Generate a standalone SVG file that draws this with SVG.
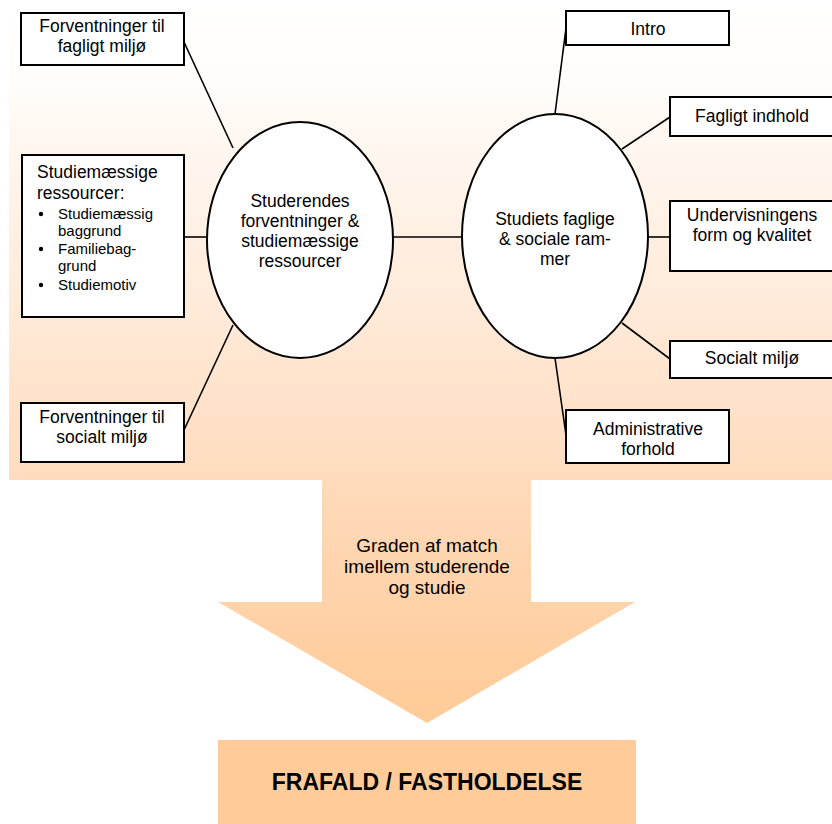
<svg xmlns="http://www.w3.org/2000/svg" width="832" height="824" viewBox="0 0 832 824">
<defs>
<linearGradient id="bg" x1="0" y1="0" x2="0" y2="1">
<stop offset="0" stop-color="#FFFFFF"/>
<stop offset="0.15" stop-color="#FFFDFB"/>
<stop offset="1" stop-color="#FFDCBF"/>
</linearGradient>
<linearGradient id="arr" gradientUnits="userSpaceOnUse" x1="0" y1="480" x2="0" y2="723">
<stop offset="0" stop-color="#FFDABB"/>
<stop offset="1" stop-color="#FFCB97"/>
</linearGradient>
<style>
.box{fill:#FFFFFF;stroke:#000000;stroke-width:2}
.ell{fill:#FFFFFF;stroke:#000000;stroke-width:2}
.ln{stroke:#000000;stroke-width:1.6;fill:none}
text{font-family:"Liberation Sans",Arial,sans-serif;fill:#000000}
.t{font-size:17.5px;text-anchor:middle}
.tl{font-size:17.5px}
.a{font-size:19px;text-anchor:middle}
.s{font-size:15px}
.b{font-size:23px;font-weight:bold;text-anchor:middle}
</style>
</defs>
<rect x="9" y="0" width="823" height="480" fill="url(#bg)"/>
<polygon id="arrow" points="322,480 531,480 531,602 635,602 427,723 218,602 322,602" fill="url(#arr)"/>
<g id="connectors">
<line class="ln" x1="184" y1="42" x2="233" y2="148"/>
<line class="ln" x1="184" y1="237" x2="207" y2="237"/>
<line class="ln" x1="184" y1="430" x2="233" y2="325"/>
<line class="ln" x1="393" y1="237" x2="462" y2="237"/>
<line class="ln" x1="555" y1="114" x2="566" y2="28"/>
<line class="ln" x1="622" y1="149" x2="670" y2="117"/>
<line class="ln" x1="648" y1="237" x2="670" y2="237"/>
<line class="ln" x1="622" y1="323" x2="670" y2="359"/>
<line class="ln" x1="555" y1="358" x2="566" y2="435"/>
</g>
<g id="n-forv-fagligt">
<rect class="box" x="21" y="13" width="163" height="52"/>
<text class="t" x="102" y="32">Forventninger til</text>
<text class="t" x="102" y="52">fagligt miljø</text>
</g>
<g id="n-ressourcer">
<rect class="box" x="22" y="155" width="162" height="162"/>
<text class="tl" x="37" y="178">Studiemæssige</text>
<text class="tl" x="37" y="199">ressourcer:</text>
<circle cx="41" cy="214" r="2.2"/>
<text class="s" x="58" y="219">Studiemæssig</text>
<text class="s" x="58" y="236">baggrund</text>
<circle cx="41" cy="249" r="2.2"/>
<text class="s" x="58" y="254">Familiebag-</text>
<text class="s" x="58" y="271">grund</text>
<circle cx="41" cy="285" r="2.2"/>
<text class="s" x="58" y="290">Studiemotiv</text>
</g>
<g id="n-forv-social">
<rect class="box" x="21" y="403" width="163" height="59"/>
<text class="t" x="102" y="423">Forventninger til</text>
<text class="t" x="102" y="443">socialt miljø</text>
</g>
<g id="n-studerendes">
<ellipse class="ell" cx="300" cy="240" rx="93" ry="118"/>
<text class="t" x="300" y="207">Studerendes</text>
<text class="t" x="300" y="227">forventninger &amp;</text>
<text class="t" x="300" y="247">studiemæssige</text>
<text class="t" x="300" y="267">ressourcer</text>
</g>
<g id="n-studiets">
<ellipse class="ell" cx="555" cy="236" rx="93" ry="122"/>
<text class="t" x="555" y="225">Studiets faglige</text>
<text class="t" x="555" y="245">&amp; sociale ram-</text>
<text class="t" x="555" y="265">mer</text>
</g>
<g id="n-intro">
<rect class="box" x="566" y="11" width="163" height="34"/>
<text class="t" x="648" y="35">Intro</text>
</g>
<g id="n-fagligt-indhold">
<rect class="box" x="670" y="97" width="170" height="39"/>
<text class="t" x="752" y="122">Fagligt indhold</text>
</g>
<g id="n-undervisning">
<rect class="box" x="670" y="201" width="170" height="70"/>
<text class="t" x="752" y="221">Undervisningens</text>
<text class="t" x="752" y="241">form og kvalitet</text>
</g>
<g id="n-socialt">
<rect class="box" x="670" y="341" width="170" height="37"/>
<text class="t" x="752" y="364">Socialt miljø</text>
</g>
<g id="n-admin">
<rect class="box" x="566" y="410" width="163" height="53"/>
<text class="t" x="648" y="435">Administrative</text>
<text class="t" x="648" y="455">forhold</text>
</g>
<g id="n-arrow-label">
<text class="a" x="427" y="552">Graden af match</text>
<text class="a" x="427" y="573">imellem studerende</text>
<text class="a" x="427" y="594">og studie</text>
</g>
<g id="n-frafald">
<rect x="218" y="740" width="418" height="90" fill="#FFCC99"/>
<text class="b" x="427" y="790">FRAFALD / FASTHOLDELSE</text>
</g>
</svg>
